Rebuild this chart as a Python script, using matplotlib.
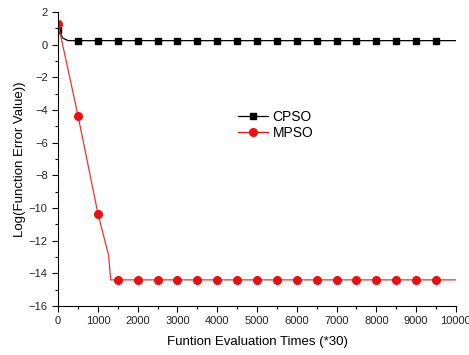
import numpy as np
import matplotlib
matplotlib.use("Agg")
import matplotlib.pyplot as plt
from matplotlib.ticker import MultipleLocator

plt.rcParams['font.family'] = ['Liberation Sans', 'DejaVu Sans']

# marker samples (every 500 evaluations)
marker_x = [0, 500, 1000, 1500, 2000, 2500, 3000, 3500, 4000, 4500, 5000,
            5500, 6000, 6500, 7000, 7500, 8000, 8500, 9000, 9500]
cpso_marks = [0.9] + [0.25] * 19
mpso_marks = [1.27, -4.35, -10.35] + [-14.4] * 17

# underlying curves (drawn as lines)
cpso_line_x = [0, 120, 250, 10000]
cpso_line_y = [0.9, 0.4, 0.25, 0.25]
mpso_line_x = [0, 500, 1000, 1270, 1320, 10000]
mpso_line_y = [1.27, -4.35, -10.35, -12.9, -14.4, -14.4]

fig = plt.figure(figsize=(4.69, 3.55), dpi=100)
ax = fig.add_axes([0.124, 0.138, 0.848, 0.828])

ax.plot(cpso_line_x, cpso_line_y, color='black', lw=0.9)
ax.plot(marker_x, cpso_marks, 's', color='black', ms=5)
ax.plot(mpso_line_x, mpso_line_y, color='#e03838', lw=0.9)
ax.plot(marker_x, mpso_marks, 'o', color='#e81010', ms=5.5)

# legend proxies
ax.plot([], [], '-s', color='black', lw=0.9, ms=5, label='CPSO')
ax.plot([], [], '-o', color='#e81010', lw=0.9, ms=5.5, label='MPSO')
handles, labels = ax.get_legend_handles_labels()
ax.legend(handles, labels, loc='upper left', bbox_to_anchor=(0.42, 0.71),
          frameon=False, fontsize=10, handlelength=2.2, labelspacing=0.15,
          handletextpad=0.3)

ax.set_xlim(0, 10000)
ax.set_ylim(-16, 2)
ax.xaxis.set_major_locator(MultipleLocator(1000))
ax.xaxis.set_minor_locator(MultipleLocator(500))
ax.yaxis.set_major_locator(MultipleLocator(2))
ax.yaxis.set_minor_locator(MultipleLocator(1))
ax.tick_params(which='major', direction='out', length=4, width=0.8,
               labelsize=8, labelcolor='#222222')
ax.tick_params(which='minor', direction='out', length=2, width=0.8)

for side in ['top', 'right']:
    ax.spines[side].set_visible(False)

ax.set_xlabel('Funtion Evaluation Times (*30)', fontsize=9.5, labelpad=7)
ax.set_ylabel('Log(Function Error Value))', fontsize=9.5, labelpad=2)

fig.savefig('out.png', dpi=100)
